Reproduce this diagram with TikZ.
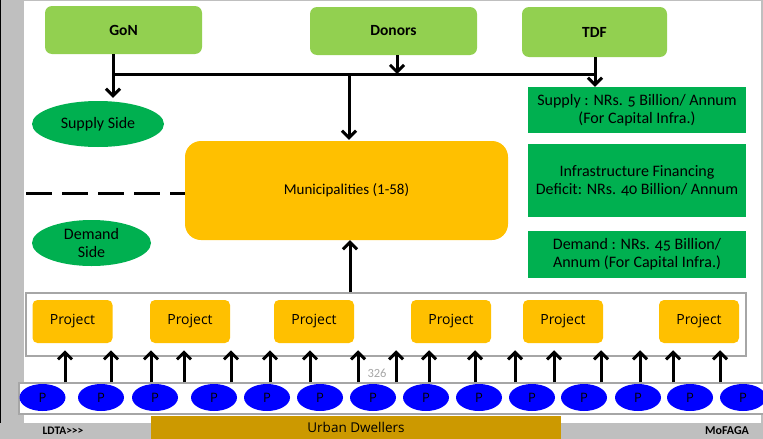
\documentclass[tikz,border=0pt]{standalone}
\usepackage{fontspec}
\setmainfont{Carlito}
\newfontfamily\projfont{Open Sans}
\usetikzlibrary{arrows.meta,shapes.geometric}
\definecolor{lgreen}{HTML}{92D050}
\definecolor{dgreen}{HTML}{00B050}
\definecolor{amber}{HTML}{FFC000}
\definecolor{framegray}{HTML}{BFBFBF}
\definecolor{edgegray}{HTML}{A6A6A6}
\definecolor{dweller}{HTML}{CC9900}
\definecolor{pblue}{HTML}{0000FF}
\begin{document}
\begin{tikzpicture}[x=1pt,y=-1pt,
  srcbox/.style={fill=lgreen, rounded corners=7pt, inner sep=0pt,
    font=\bfseries\fontsize{15.5}{18}\selectfont},
  factbox/.style={fill=dgreen, inner sep=0pt, minimum width=218pt, align=center,
    font=\fontsize{16}{18}\selectfont\addfontfeatures{Numbers=OldStyle}},
  sidelbl/.style={ellipse, fill=dgreen, inner sep=0pt, align=center,
    minimum height=46pt, font=\fontsize{16}{18}\selectfont},
  projbox/.style={fill=amber, rounded corners=5pt, inner sep=0pt,
    minimum width=80pt, minimum height=43pt, font=\projfont\fontsize{14}{16}\selectfont},
  pnode/.style={ellipse, fill=pblue, inner sep=0pt, minimum width=46pt,
    minimum height=27pt, font=\projfont\fontsize{13}{14}\selectfont},
  flow/.style={line width=3pt, -{Straight Barb[length=7pt,width=14pt]}},
  link/.style={line width=3pt}]

\useasboundingbox (0,0) rectangle (763,439);

% slide frame
\fill[framegray] (0,0) rectangle (24,439);
\fill[black] (0,0) rectangle (1.2,439);
\fill[framegray] (24,0) rectangle (763,1.2);
\fill[framegray] (760.8,0) rectangle (763,439);
\fill[framegray] (0,423) rectangle (763,439);

% funding sources
\node[srcbox, minimum width=157pt, minimum height=48pt] (gon) at (123.5,30) {GoN};
\node[srcbox, minimum width=167pt, minimum height=48pt] (donors) at (393.5,31) {Donors};
\node[srcbox, minimum width=145pt, minimum height=50pt] (tdf) at (594.5,32) {TDF};

% supply / demand figures
\node[factbox, minimum height=46pt] (supply) at (637,110)
  {Supply : NRs. 5 Billion/ Annum\\(For Capital Infra.)};
\node[factbox, minimum height=73pt] (deficit) at (637,180.5)
  {Infrastructure Financing\\Deficit: NRs. 40 Billion/ Annum};
\node[factbox, minimum height=47pt] (demand) at (637,254.5)
  {Demand : NRs. 45 Billion/\\Annum (For Capital Infra.)};

% municipalities
\node[fill=amber, rounded corners=16pt, minimum width=323pt, minimum height=99pt,
  inner sep=0pt, font=\fontsize{15}{18}\selectfont] (muni) at (346.5,190.5)
  {Municipalities (1-58)};

% side labels
\node[sidelbl, minimum width=132pt] (supplyside) at (98,124) {Supply Side};
\node[sidelbl, minimum width=119pt] (demandside) at (91.5,243) {Demand\\Side};

% divider between supply and demand side
\coordinate (divL) at (26,193);
\draw[line width=3pt, dash pattern=on 26pt off 10pt] (divL) -- (muni.west |- divL);

% funding bus
\coordinate (busL) at (113,74);
\coordinate (busR) at (595,74);
\coordinate (busD) at (397,74);
\coordinate (busM) at (349,74);
\draw[link] (gon.south -| busL) -- (busL);
\draw[link] (busL) -- (busR);
\draw[link] (tdf.south -| busR) -- (busR);
\draw[flow] (donors.south -| busD) -- (busD);
\draw[flow] (busL) -- ([yshift=3pt]busL |- supplyside.north);
\draw[flow] (busR) -- (busR |- supply.north);
\draw[flow] (busM) -- ([yshift=1pt]busM |- muni.north);

% projects
\node[draw=edgegray, line width=1.5pt, minimum width=720pt, minimum height=63pt,
  inner sep=0pt] (projects) at (386,324.5) {};
\foreach \px [count=\i] in {72.5,190,314,451,563,699}
  \node[projbox] (proj\i) at (\px,321.5) {Project};
\draw[flow] (projects.north -| 350,0) -- (muni.south -| 350,0);

% beneficiaries
\node[draw=edgegray, fill=white, line width=1.5pt, minimum width=752pt,
  minimum height=31pt, inner sep=0pt] (prow) at (395,398.5) {};
\foreach \px [count=\i] in {42.5,101,155,214,267,320,373,426,479,532,584,638,690,743}
  \node[pnode] (p\i) at (\px,397.5) {P};
\foreach \ax in {65,111,151,184,231,270,310,358,396,429,475,515,554,601,640,673,720}
  \draw[flow] (prow.north -| \ax,0) -- ++(0,-32);
\node[text=edgegray, font=\fontsize{12.5}{14}\selectfont] (pagenum) at (377,373) {326};

% footer
\node[fill=dweller, minimum width=410pt, minimum height=23pt, inner sep=0pt,
  font=\projfont\fontsize{13.5}{16}\selectfont] (dwellers) at (356,427.5) {Urban Dwellers};
\node[font=\bfseries\fontsize{11.5}{13}\selectfont] (ldta) at (63,431) {LDTA>{}>{}>};
\node[font=\bfseries\fontsize{12}{13}\selectfont] (mofaga) at (727,431) {MoFAGA};
\end{tikzpicture}
\end{document}
